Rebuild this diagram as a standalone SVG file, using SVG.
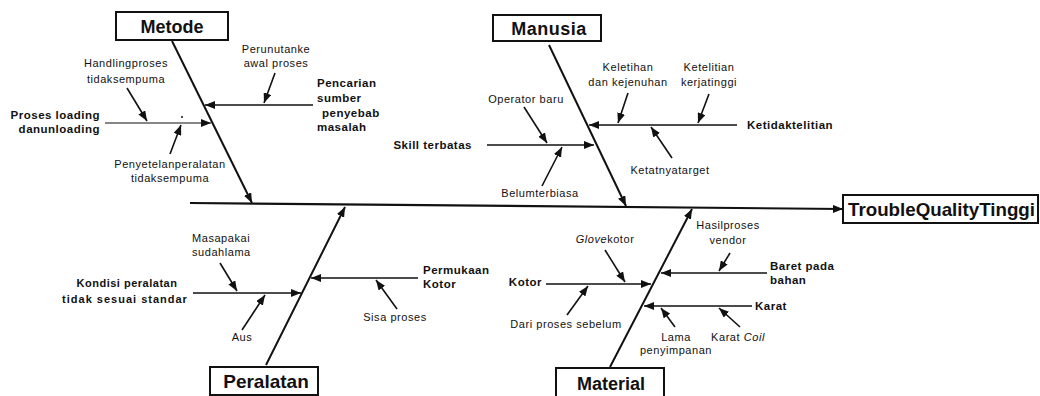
<svg xmlns="http://www.w3.org/2000/svg" width="1040" height="396" viewBox="0 0 1040 396">
<style>
text{font-family:"Liberation Sans",Arial,sans-serif;fill:#111}
.box{fill:#fff;stroke:#111;stroke-width:2}
.hd{font-size:18px;font-weight:bold}
.b{font-size:11.5px;font-weight:bold;letter-spacing:0.5px}
.r{font-size:11px;letter-spacing:0.55px}
.m{text-anchor:middle}
.e{text-anchor:end}
.main{stroke:#111;stroke-width:2.2;fill:none}
.bone{stroke:#111;stroke-width:2;fill:none}
.sub{stroke:#111;stroke-width:1.6;fill:none}
.thin{stroke:#111;stroke-width:1.1;fill:none}
</style>
<defs>
<marker id="ah" markerUnits="userSpaceOnUse" markerWidth="10" markerHeight="8" viewBox="0 0 10 8" refX="10" refY="4" orient="auto">
<path d="M0,0 L10,4 L0,8 z" fill="#111"/>
</marker>
</defs>
<rect width="1040" height="396" fill="#fff"/>

<g id="connectors">
<line class="main" x1="190" y1="203" x2="843" y2="209" marker-end="url(#ah)"/>
<!-- Metode -->
<line class="bone" x1="172" y1="41" x2="252" y2="203" marker-end="url(#ah)"/>
<line class="sub" x1="313" y1="105" x2="205" y2="105" marker-end="url(#ah)"/>
<line class="sub" x1="275" y1="73" x2="264" y2="103" marker-end="url(#ah)"/>
<line class="thin" x1="105" y1="123" x2="211" y2="123" marker-end="url(#ah)"/>
<line class="sub" x1="127" y1="88" x2="147" y2="121" marker-end="url(#ah)"/>
<line class="sub" x1="170" y1="154" x2="181" y2="125" marker-end="url(#ah)"/>
<circle cx="182" cy="117" r="1" fill="#111"/>
<!-- Manusia -->
<line class="bone" x1="549" y1="45" x2="626" y2="206" marker-end="url(#ah)"/>
<line class="sub" x1="737" y1="125" x2="589" y2="125" marker-end="url(#ah)"/>
<line class="sub" x1="628" y1="93" x2="618" y2="123" marker-end="url(#ah)"/>
<line class="sub" x1="709" y1="94" x2="698" y2="123" marker-end="url(#ah)"/>
<line class="sub" x1="672" y1="158" x2="651" y2="127" marker-end="url(#ah)"/>
<line class="sub" x1="487" y1="145" x2="594" y2="145" marker-end="url(#ah)"/>
<line class="sub" x1="524" y1="107" x2="547" y2="143" marker-end="url(#ah)"/>
<line class="sub" x1="542" y1="186" x2="562" y2="147" marker-end="url(#ah)"/>
<!-- Peralatan -->
<line class="bone" x1="266" y1="365" x2="345" y2="207" marker-end="url(#ah)"/>
<line class="sub" x1="193" y1="293" x2="301" y2="293" marker-end="url(#ah)"/>
<line class="sub" x1="220" y1="263" x2="237" y2="291" marker-end="url(#ah)"/>
<line class="sub" x1="242" y1="330" x2="265" y2="295" marker-end="url(#ah)"/>
<line class="sub" x1="418" y1="278" x2="311" y2="278" marker-end="url(#ah)"/>
<line class="sub" x1="397" y1="309" x2="376" y2="280" marker-end="url(#ah)"/>
<!-- Material -->
<line class="bone" x1="610" y1="367" x2="692" y2="209" marker-end="url(#ah)"/>
<line class="sub" x1="546" y1="284" x2="651" y2="284" marker-end="url(#ah)"/>
<line class="sub" x1="605" y1="250" x2="625" y2="282" marker-end="url(#ah)"/>
<line class="sub" x1="567" y1="315" x2="588" y2="286" marker-end="url(#ah)"/>
<line class="sub" x1="767" y1="273" x2="661" y2="273" marker-end="url(#ah)"/>
<line class="sub" x1="730" y1="253" x2="719" y2="271" marker-end="url(#ah)"/>
<line class="sub" x1="752" y1="306" x2="644" y2="306" marker-end="url(#ah)"/>
<line class="sub" x1="675" y1="327" x2="661" y2="308" marker-end="url(#ah)"/>
<line class="sub" x1="740" y1="327" x2="719" y2="308" marker-end="url(#ah)"/>
</g>

<g id="effect">
<rect class="box" x="843" y="195" width="195" height="28"/>
<text x="848" y="216" style="font-size:19px;font-weight:bold" textLength="187" lengthAdjust="spacingAndGlyphs">TroubleQualityTinggi</text>
</g>

<g id="metode">
<rect class="box" x="116" y="12" width="112" height="28"/>
<text class="hd m" x="172" y="32.5">Metode</text>
</g>
<g id="manusia">
<rect class="box" x="493" y="15" width="108" height="26"/>
<text class="hd m" x="549" y="34.5" style="letter-spacing:0.5px">Manusia</text>
</g>
<g id="peralatan">
<rect class="box" x="210" y="367" width="108" height="28"/>
<text class="hd m" x="266" y="388" style="font-size:19px">Peralatan</text>
</g>
<g id="material">
<rect class="box" x="556" y="368" width="108" height="32"/>
<text class="hd m" x="611" y="390">Material</text>
</g>

<g id="cause-pencarian"><text class="b" x="317" y="87">Pencarian</text><text class="b" x="317" y="102">sumber</text><text class="b" x="322" y="117">penyebab</text><text class="b" x="317" y="131">masalah</text></g>
<g id="cause-perunutan"><text class="r m" x="276" y="53">Perunutanke</text><text class="r m" x="276" y="67">awal proses</text></g>
<g id="cause-proses-loading"><text class="b e" x="100" y="119">Proses loading</text><text class="b e" x="100" y="133">danunloading</text></g>
<g id="cause-handling"><text class="r m" x="126" y="67">Handlingproses</text><text class="r m" x="126" y="83">tidaksempuma</text></g>
<g id="cause-penyetelan"><text class="r m" x="170" y="168">Penyetelanperalatan</text><text class="r m" x="170" y="182">tidaksempuma</text></g>

<g id="cause-ketidaktelitian"><text class="b" x="747" y="129">Ketidaktelitian</text></g>
<g id="cause-keletihan"><text class="r m" x="628" y="71">Keletihan</text><text class="r m" x="628" y="86">dan kejenuhan</text></g>
<g id="cause-ketelitian"><text class="r m" x="709" y="71">Ketelitian</text><text class="r m" x="709" y="86">kerjatinggi</text></g>
<g id="cause-ketatnya"><text class="r m" x="670" y="174">Ketatnyatarget</text></g>
<g id="cause-skill"><text class="b e" x="472" y="149">Skill terbatas</text></g>
<g id="cause-operator"><text class="r m" x="526" y="103">Operator baru</text></g>
<g id="cause-belum"><text class="r m" x="540" y="197">Belumterbiasa</text></g>

<g id="cause-kondisi"><text class="b m" x="127" y="287" style="font-size:11px;letter-spacing:0.5px">Kondisi peralatan</text><text class="b m" x="125" y="303" style="font-size:11px;letter-spacing:1px">tidak sesuai standar</text></g>
<g id="cause-masapakai"><text class="r" x="192" y="242">Masapakai</text><text class="r" x="192" y="256">sudahlama</text></g>
<g id="cause-aus"><text class="r m" x="242" y="341">Aus</text></g>
<g id="cause-permukaan"><text class="b" x="423" y="274">Permukaan</text><text class="b" x="423" y="288">Kotor</text></g>
<g id="cause-sisa"><text class="r m" x="395" y="321">Sisa proses</text></g>

<g id="cause-kotor"><text class="b e" x="542" y="286">Kotor</text></g>
<g id="cause-glove"><text class="r m" x="605" y="243"><tspan font-style="italic">Glove</tspan>kotor</text></g>
<g id="cause-dari"><text class="r m" x="566" y="328">Dari proses sebelum</text></g>
<g id="cause-baret"><text class="b" x="770" y="270">Baret pada</text><text class="b" x="770" y="284">bahan</text></g>
<g id="cause-hasil"><text class="r m" x="728" y="229">Hasilproses</text><text class="r m" x="728" y="244">vendor</text></g>
<g id="cause-karat"><text class="b" x="755" y="310">Karat</text></g>
<g id="cause-lama"><text class="r m" x="676" y="341">Lama</text><text class="r m" x="676" y="354">penyimpanan</text></g>
<g id="cause-karat-coil"><text class="r m" x="738" y="341">Karat <tspan font-style="italic">Coil</tspan></text></g>
</svg>
